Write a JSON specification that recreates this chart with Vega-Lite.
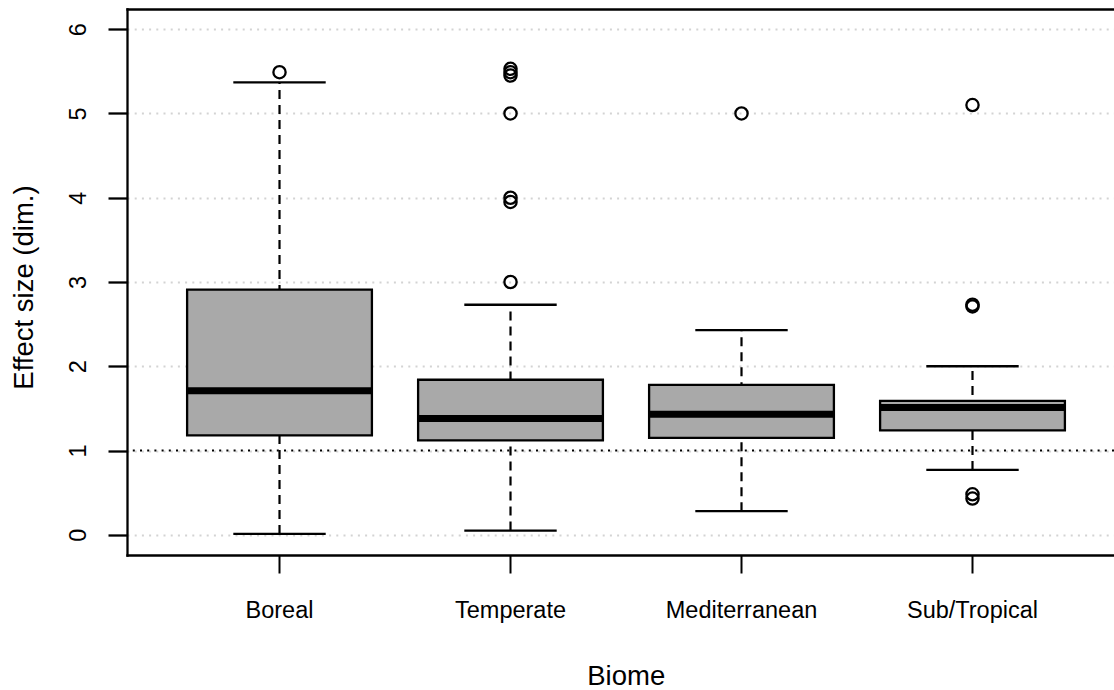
{
  "$schema": "https://vega.github.io/schema/vega-lite/v6.json",
  "width": 987,
  "height": 546,
  "autosize": {"type": "none"},
  "padding": {"left": 127, "top": 9, "right": 0, "bottom": 135},
  "background": "white",
  "config": {
    "view": {"stroke": null},
    "font": "Liberation Sans",
    "axis": {"labelColor": "black", "titleColor": "black", "titleFontWeight": "normal", "labelFont": "Liberation Sans", "titleFont": "Liberation Sans"}
  },
  "datasets": {
    "boxes": [
      {"biome": "Boreal", "lower": 0.01, "q1": 1.18, "median": 1.71, "q3": 2.91, "upper": 5.37},
      {"biome": "Temperate", "lower": 0.05, "q1": 1.12, "median": 1.38, "q3": 1.84, "upper": 2.73},
      {"biome": "Mediterranean", "lower": 0.28, "q1": 1.15, "median": 1.43, "q3": 1.78, "upper": 2.43},
      {"biome": "Sub/Tropical", "lower": 0.77, "q1": 1.24, "median": 1.51, "q3": 1.59, "upper": 2.0}
    ],
    "outliers": [
      {"biome": "Boreal", "value": 5.49},
      {"biome": "Temperate", "value": 3.0},
      {"biome": "Temperate", "value": 3.95},
      {"biome": "Temperate", "value": 4.0},
      {"biome": "Temperate", "value": 5.0},
      {"biome": "Temperate", "value": 5.45},
      {"biome": "Temperate", "value": 5.49},
      {"biome": "Temperate", "value": 5.53},
      {"biome": "Mediterranean", "value": 5.0},
      {"biome": "Sub/Tropical", "value": 0.43},
      {"biome": "Sub/Tropical", "value": 0.48},
      {"biome": "Sub/Tropical", "value": 2.71},
      {"biome": "Sub/Tropical", "value": 2.73},
      {"biome": "Sub/Tropical", "value": 5.1}
    ]
  },
  "resolve": {"axis": {"x": "independent"}},
  "layer": [
    {
      "data": {"name": "boxes"},
      "mark": {"type": "rule", "color": "black", "strokeWidth": 2.2, "strokeDash": [9, 6]},
      "encoding": {
        "x": {
          "field": "biome", "type": "nominal", "sort": null,
          "scale": {"type": "band", "domain": ["Boreal", "Temperate", "Mediterranean", "Sub/Tropical"], "paddingInner": 0.2, "paddingOuter": 0.2364, "align": 0.5504},
          "axis": {
            "orient": "bottom", "title": "Biome", "grid": false,
            "domain": true, "domainColor": "black", "domainWidth": 2.3, "domainCap": "square",
            "ticks": true, "tickColor": "black", "tickWidth": 2, "tickSize": 18,
            "labelFontSize": 23.5, "labelAngle": 0, "labelBaseline": "alphabetic", "labelPadding": 44,
            "labelOverlap": false, "labelFlush": false,
            "titleFontSize": 27.5, "titleX": 498.75, "titleY": 129, "titleAlign": "center", "titleBaseline": "alphabetic"
          }
        },
        "y": {
          "field": "lower", "type": "quantitative",
          "scale": {"domain": [-0.24, 6.24], "nice": false, "zero": false},
          "axis": {
            "title": "Effect size (dim.)", "values": [0, 1, 2, 3, 4, 5, 6], "format": "d",
            "grid": true, "gridColor": "#D3D3D3", "gridDash": [2, 5.2], "gridWidth": 2,
            "domain": true, "domainColor": "black", "domainWidth": 2.3, "domainCap": "square",
            "ticks": true, "tickColor": "black", "tickWidth": 2.3, "tickSize": 19,
            "labelFontSize": 23.5, "labelAngle": 270, "labelAlign": "center", "labelBaseline": "alphabetic", "labelPadding": 23,
            "titleFontSize": 27.5, "titleAngle": 270, "titleX": -94.3, "titleY": 278, "titleAlign": "center", "titleBaseline": "alphabetic"
          }
        },
        "y2": {"field": "upper"}
      }
    },
    {
      "data": {"name": "boxes"},
      "mark": {"type": "bar", "fill": "#A9A9A9", "stroke": "black", "strokeWidth": 2.3},
      "encoding": {
        "x": {
          "field": "biome", "type": "nominal", "sort": null,
          "axis": {"orient": "top", "labels": false, "ticks": false, "grid": false, "title": null, "domain": true, "domainColor": "black", "domainWidth": 2.3, "domainCap": "square"}
        },
        "y": {"field": "q1", "type": "quantitative"},
        "y2": {"field": "q3"}
      }
    },
    {
      "data": {"name": "boxes"},
      "mark": {"type": "tick", "color": "black", "size": 184.8, "thickness": 6.9, "opacity": 1},
      "encoding": {
        "x": {"field": "biome", "type": "nominal", "sort": null, "axis": null},
        "y": {"field": "median", "type": "quantitative"}
      }
    },
    {
      "data": {"name": "boxes"},
      "mark": {"type": "tick", "color": "black", "size": 92.4, "thickness": 2.3, "opacity": 1},
      "encoding": {
        "x": {"field": "biome", "type": "nominal", "sort": null, "axis": null},
        "y": {"field": "upper", "type": "quantitative"}
      }
    },
    {
      "data": {"name": "boxes"},
      "mark": {"type": "tick", "color": "black", "size": 92.4, "thickness": 2.3, "opacity": 1},
      "encoding": {
        "x": {"field": "biome", "type": "nominal", "sort": null, "axis": null},
        "y": {"field": "lower", "type": "quantitative"}
      }
    },
    {
      "data": {"name": "outliers"},
      "mark": {"type": "point", "shape": "circle", "filled": false, "stroke": "black", "strokeWidth": 2.3, "size": 150, "opacity": 1},
      "encoding": {
        "x": {"field": "biome", "type": "nominal", "sort": null, "axis": null},
        "y": {"field": "value", "type": "quantitative"}
      }
    },
    {
      "data": {"values": [{}]},
      "mark": {"type": "rule", "color": "black", "strokeWidth": 2.2, "strokeDash": [2, 5.2]},
      "encoding": {"y": {"datum": 1, "type": "quantitative"}}
    }
  ]
}
